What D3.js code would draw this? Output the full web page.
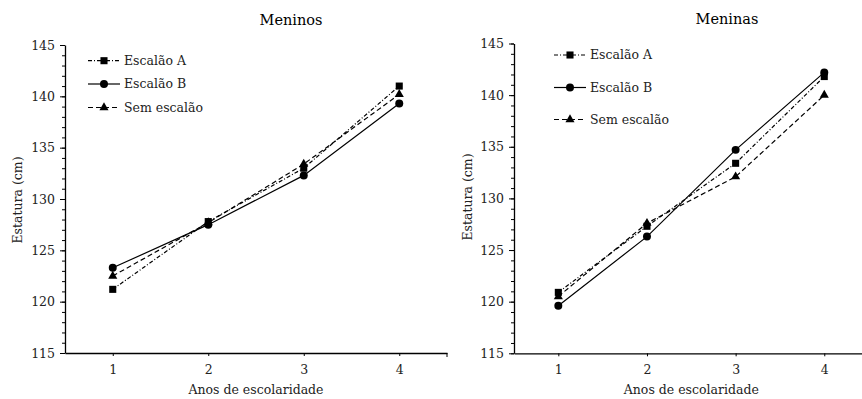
<!DOCTYPE html>
<html>
<head>
<meta charset="utf-8">
<script src="https://cdn.jsdelivr.net/npm/d3@7"></script>
<style>
  html, body { margin: 0; padding: 0; background: #fff; }
  svg text { font-family: "DejaVu Serif", "Liberation Serif", "Noto Serif", serif !important; }
</style>
</head>
<body>
<svg id="chart" width="862" height="399"></svg>
<script>
// School year on the x axis, height in cm on the y axis
const years = [1, 2, 3, 4];
const yMajorTicks = [115, 120, 125, 130, 135, 140, 145];
const seriesNames = ["Escalão A", "Escalão B", "Sem escalão"];

// Boys (Meninos)
const boysA   = [121.2, 127.8, 133.0, 141.0];
const boysB   = [123.3, 127.5, 132.3, 139.3];
const boysSem = [122.5, 127.7, 133.4, 140.2];

// Girls (Meninas)
const girlsA   = [120.9, 127.3, 133.4, 141.8];
const girlsB   = [119.6, 126.3, 134.7, 142.2];
const girlsSem = [120.5, 127.6, 132.1, 140.0];

const svg = d3.select("#chart");

const styles = [
  { dash: "4,2,1,2", marker: d3.symbolSquare, size: 50 },
  { dash: null,      marker: d3.symbolCircle, size: 50 },
  { dash: "5,3",     marker: d3.symbolTriangle, size: 36 }
];

const labelSize = 12.5;

function drawPanel(p) {
  const g = svg.append("g");
  const x = d3.scaleLinear().domain([0.5, 4.5]).range([p.x0, p.x1]);
  const y = d3.scaleLinear().domain([115, 145]).range([p.yBottom, p.yTop]);

  // y axis: minor ticks every 1 cm, labelled ticks every 5 cm
  g.append("g")
    .attr("transform", `translate(${p.x0},0)`)
    .call(d3.axisLeft(y).tickValues(d3.range(115, 146, 1)).tickSize(3).tickFormat(""))
    .call(a => a.select(".domain").remove());
  const yAx = g.append("g")
    .attr("transform", `translate(${p.x0},0)`)
    .call(d3.axisLeft(y).tickValues(yMajorTicks).tickSize(5).tickPadding(5).tickSizeOuter(0));
  yAx.selectAll("text").attr("font-size", labelSize).attr("fill", "#222");

  // x axis
  const xAx = g.append("g")
    .attr("transform", `translate(0,${p.yBottom})`)
    .call(d3.axisBottom(x).tickValues(years).tickSize(3).tickPadding(9).tickFormat(d3.format("d")).tickSizeOuter(0));
  xAx.selectAll("text").attr("font-size", labelSize).attr("fill", "#222");
  xAx.append("line")
    .attr("x1", x(4.5)).attr("x2", x(4.5)).attr("y1", 0).attr("y2", 4)
    .attr("stroke", "#000");
  svg.selectAll(".domain").attr("stroke-width", 1.3);

  // titles
  g.append("text").attr("x", p.titleX).attr("y", p.titleY)
    .attr("text-anchor", "middle").attr("font-size", 14.5).text(p.title);
  g.append("text").attr("x", (p.x0 + p.x1) / 2).attr("y", 394)
    .attr("text-anchor", "middle").attr("font-size", labelSize).attr("fill", "#222").text("Anos de escolaridade");
  g.append("text")
    .attr("transform", `translate(${p.yTitleX},${p.yTitleY}) rotate(-90)`)
    .attr("text-anchor", "middle").attr("dy", "0.35em").attr("font-size", labelSize).attr("fill", "#222")
    .text("Estatura (cm)");

  // series lines and markers
  const line = d3.line().x((d, i) => x(years[i])).y(d => y(d));
  p.series.forEach((vals, si) => {
    const st = styles[si];
    g.append("path").datum(vals)
      .attr("d", line).attr("fill", "none").attr("stroke", "#000")
      .attr("stroke-width", 1.2)
      .attr("stroke-dasharray", st.dash);
    g.selectAll(null).data(vals).join("path")
      .attr("transform", (d, i) => `translate(${x(years[i])},${y(d)})`)
      .attr("d", d3.symbol().type(st.marker).size(st.size))
      .attr("fill", "#000");
  });

  // legend
  seriesNames.forEach((name, si) => {
    const st = styles[si];
    const ly = p.legY[si];
    const lg = g.append("g").attr("transform", `translate(${p.legX},${ly})`);
    lg.append("line").attr("x1", 0).attr("x2", p.legLen).attr("y1", 0).attr("y2", 0)
      .attr("stroke", "#000").attr("stroke-width", 1.2).attr("stroke-dasharray", st.dash);
    lg.append("path").attr("transform", `translate(${p.legLen / 2},0)`)
      .attr("d", d3.symbol().type(st.marker).size(st.size)).attr("fill", "#000");
    lg.append("text").attr("x", p.legLen + 4).attr("dy", "0.35em")
      .attr("font-size", labelSize).attr("fill", "#222").text(name);
  });
}

drawPanel({
  title: "Meninos", titleX: 291, titleY: 25,
  x0: 65, x1: 447, yTop: 45, yBottom: 353,
  yTitleX: 18, yTitleY: 200,
  legX: 88, legLen: 32, legY: [60.7, 84, 107.5],
  series: [boysA, boysB, boysSem]
});

drawPanel({
  title: "Meninas", titleX: 727, titleY: 24,
  x0: 514, x1: 868.6, yTop: 43.5, yBottom: 353.3,
  yTitleX: 468, yTitleY: 197,
  legX: 554, legLen: 32, legY: [55, 87.5, 119.5],
  series: [girlsA, girlsB, girlsSem]
});
</script>
</body>
</html>
